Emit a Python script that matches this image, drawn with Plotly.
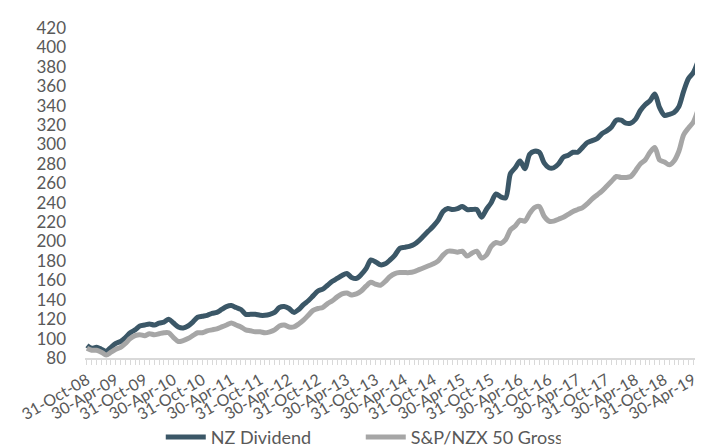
import pandas as pd
import plotly.graph_objects as go

# Month-end dates, 31-Oct-08 .. 31-May-19
dates = pd.date_range("2008-10-31", periods=128, freq="ME")
date_labels = [d.strftime("%d-%b-%y") for d in dates]

nz_dividend = [
    93, 90, 91, 89, 87, 91, 95, 97, 101, 106, 109, 113, 114, 115, 114, 116,
    117, 120, 116, 112, 111, 113, 117, 122, 123, 124, 126, 127, 130, 133, 134, 132,
    130, 125, 125, 125, 124, 124, 125, 127, 132, 133, 131, 127, 130, 135, 139, 144,
    149, 151, 155, 159, 162, 165, 167, 163, 162, 166, 172, 181, 179, 176, 177, 181,
    186, 193, 194, 195, 197, 201, 206, 211, 216, 222, 231, 234, 233, 234, 236, 233,
    233, 233, 225, 233, 240, 249, 246, 245, 270, 276, 283, 275, 290, 293, 292, 281,
    276, 276, 280, 287, 289, 292, 292, 297, 302, 304, 306, 311, 314, 318, 325, 325,
    322, 322, 326, 335, 341, 345, 352, 338, 330, 331, 333, 339, 355, 368, 374, 386,
]

nzx50_gross = [
    90, 88, 88, 86, 83, 86, 89, 91, 95, 100, 103, 104, 103, 105, 104, 105,
    106, 106, 101, 97, 98, 100, 103, 106, 106, 108, 109, 110, 112, 114, 116, 114,
    112, 109, 108, 107, 107, 106, 107, 109, 113, 114, 112, 112, 115, 119, 124, 129,
    131, 132, 136, 139, 143, 146, 147, 145, 146, 149, 154, 158, 156, 155, 159, 164,
    167, 168, 168, 168, 169, 171, 173, 175, 177, 180, 186, 190, 190, 189, 190, 185,
    188, 190, 183, 186, 195, 199, 198, 202, 212, 216, 222, 221, 229, 235, 236, 226,
    221, 221, 223, 225, 228, 231, 233, 235, 239, 244, 248, 252, 257, 262, 267, 266,
    266, 267, 273, 280, 284, 292, 297, 284, 282, 279, 283, 293, 310, 317, 323, 336,
]

series_names = ["NZ Dividend", "S&P/NZX 50 Gross"]
series_colors = ["#3B5767", "#A6A6A6"]
y_ticks = list(range(80, 421, 20))

idx = list(range(len(date_labels)))
tick_idx = idx[::6]
tick_text = [date_labels[i] for i in tick_idx]

FONT = "Lato"
TXT = "#595959"

fig = go.Figure()
for name, vals, col in zip(series_names, [nz_dividend, nzx50_gross], series_colors):
    fig.add_trace(go.Scatter(
        x=idx, y=vals, name=name, mode="lines",
        line=dict(color=col, width=5, shape="spline", smoothing=0.8),
        customdata=date_labels, hovertemplate="%{customdata}: %{y}<extra>" + name + "</extra>",
    ))

fig.update_layout(
    width=703, height=448,
    margin=dict(l=77, r=10, t=20, b=98, autoexpand=False),
    paper_bgcolor="white", plot_bgcolor="white",
    font=dict(family=FONT, size=17, color=TXT),
    showlegend=True,
    legend=dict(orientation="h", x=0.123, xanchor="left", y=-0.24, yanchor="middle",
                font=dict(size=18, color=TXT), entrywidth=145,
                itemwidth=40, bgcolor="rgba(0,0,0,0)"),
    xaxis=dict(
        range=[-0.4, 127.6], tickmode="array", tickvals=tick_idx, ticktext=tick_text,
        tickangle=-30, showgrid=False, zeroline=False, automargin=False,
        showline=True, linecolor="#D9D9D9", linewidth=1.5,
        ticks="outside", ticklen=5, tickcolor="#D9D9D9",
        minor=dict(dtick=1, tick0=0, ticks="outside", ticklen=5, tickcolor="#D9D9D9", showgrid=False),
        tickfont=dict(size=16, color=TXT), ticklabelstandoff=0,
    ),
    yaxis=dict(
        range=[80, 420], tickvals=y_ticks, showgrid=False, zeroline=False, automargin=False,
        showline=False, ticks="", tickfont=dict(size=17, color=TXT),
        ticklabelstandoff=18,
    ),
)

fig.write_html("out.html")
